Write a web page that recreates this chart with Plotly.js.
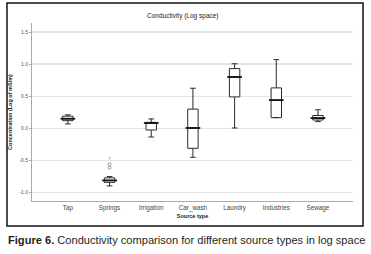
<!DOCTYPE html>
<html><head><meta charset="utf-8">
<script src="https://cdn.plot.ly/plotly-3.0.1.min.js"></script>
<style>html,body{margin:0;padding:0;background:#fff;}#c{width:371px;height:254px;}</style>
</head><body><div id="c"></div>
<script>
const categories = ["Tap","Springs","Irrigation","Car_wash","Laundry","Industries","Sewage"];
const lowerFence = [0.07, -0.895, -0.134, -0.45, 0.006, 0.167, 0.105];
const q1 = [0.12, -0.84, -0.025, -0.31, 0.49, 0.167, 0.13];
const median = [0.15, -0.81, 0.084, 0.006, 0.80, 0.44, 0.16];
const q3 = [0.19, -0.77, 0.094, 0.30, 0.93, 0.63, 0.20];
const upperFence = [0.21, -0.75, 0.147, 0.625, 1.006, 1.07, 0.29];
const outlierCat = ["Springs","Springs"];
const outlierVal = [-0.56, -0.61];
const outlierLabel = ["7", ""];
const yTicks = [-1.0, -0.5, 0.0, 0.5, 1.0, 1.5];

const L = 32, R = 353, T = 23, B = 201;
const W = R - L, H = B - T;
const px = x => (x - L) / W;
const py = y => (B - y) / H;

const traces = categories.map((c, i) => ({
  type: 'box', x: [c], q1: [q1[i]], median: [median[i]], q3: [q3[i]],
  lowerfence: [lowerFence[i]], upperfence: [upperFence[i]],
  boxpoints: false, width: 0.25, whiskerwidth: 0.55,
  fillcolor: '#ffffff', line: {color: '#2a2a2a', width: 1},
  showlegend: false, hoverinfo: 'none'
}));
traces.push({
  type: 'scatter', mode: 'markers', x: categories, y: median,
  marker: {symbol: 'line-ew', size: 10.5, line: {color: '#111', width: 1.8}},
  showlegend: false, hoverinfo: 'none'
});
traces.push({
  type: 'scatter', mode: 'markers+text', x: outlierCat, y: outlierVal,
  text: outlierLabel, textposition: 'top center',
  textfont: {size: 4, color: '#555', family: 'Liberation Sans, Arial, sans-serif'},
  marker: {symbol: 'circle-open', size: 3, color: '#777', line: {width: 0.7}},
  showlegend: false, hoverinfo: 'none', cliponaxis: false
});

const layout = {
  width: 371, height: 254,
  margin: {l: L, r: 371 - R, t: T, b: 254 - B, pad: 0},
  paper_bgcolor: '#fff', plot_bgcolor: '#fff',
  font: {family: 'Liberation Sans, Arial, sans-serif', color: '#333'},
  showlegend: false,
  xaxis: {
    type: 'category', range: [-0.86, 6.84], showgrid: false, zeroline: false,
    showline: true, linecolor: '#aaa', linewidth: 1, ticks: '',
    tickfont: {size: 6.3, color: '#444'}, ticklen: 0, automargin: false,
    title: {text: '<b>Source type</b>', font: {size: 5.5, color: '#222'}, standoff: 3}
  },
  yaxis: {
    range: [-1.13, 1.64], tickvals: yTicks, ticktext: yTicks.map(v => v.toFixed(1)),
    showgrid: true, gridcolor: '#e4e4e4', gridwidth: 1.3, zeroline: false,
    showline: true, linecolor: '#aaa', linewidth: 1, ticks: 'outside', ticklen: 2, tickcolor: '#aaa',
    tickfont: {size: 5, color: '#555'}, automargin: false,
    title: {text: '<b>Concentration (Log of mS/m)</b>', font: {size: 5.5, color: '#222'}, standoff: 6}
  },
  shapes: [{
    type: 'rect', xref: 'paper', yref: 'paper',
    x0: px(7), x1: px(363), y0: py(226), y1: py(3),
    line: {color: '#111', width: 1.5}, fillcolor: 'rgba(0,0,0,0)'
  }],
  annotations: [
    {xref: 'paper', yref: 'paper', x: px(183), y: py(16), text: 'Conductivity (Log space)',
     showarrow: false, font: {size: 6.5, color: '#222'}, xanchor: 'center', yanchor: 'middle'},
    {xref: 'paper', yref: 'paper', x: px(6), y: py(240),
     text: '<b>Figure 6.</b> Conductivity comparison for different source types in log space',
     showarrow: false, xanchor: 'left', yanchor: 'middle',
     font: {size: 11.1, color: '#231f20', family: 'Liberation Sans, Arial, sans-serif'}}
  ]
};
Plotly.newPlot('c', traces, layout, {staticPlot: true, displayModeBar: false});
</script></body></html>
